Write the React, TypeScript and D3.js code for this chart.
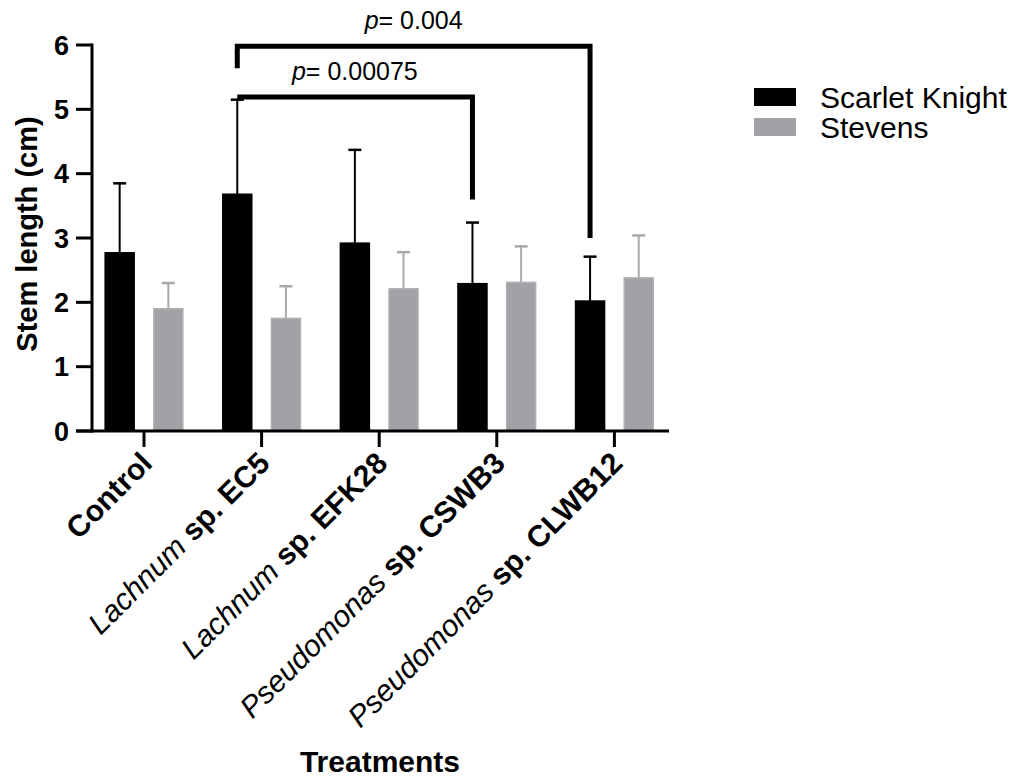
import React from "react";
import * as d3 from "d3";

const genus = ["", "Lachnum", "Lachnum", "Pseudomonas", "Pseudomonas"];
const strain = ["Control", " sp. EC5", " sp. EFK28", " sp. CSWB3", " sp. CLWB12"];
const categories = strain.map((s, i) => genus[i] + s);
const seriesNames = ["Scarlet Knight", "Stevens"];
const scarletMeans = [2.77, 3.68, 2.92, 2.29, 2.02];
const scarletSD = [1.08, 1.47, 1.45, 0.95, 0.69];
const stevensMeans = [1.9, 1.75, 2.21, 2.31, 2.38];
const stevensSD = [0.4, 0.5, 0.57, 0.56, 0.66];
const yTicks = [0, 1, 2, 3, 4, 5, 6];
// significance brackets: from/to category index (Scarlet Knight bars), level, drop levels
const brFrom = [1, 1];
const brTo = [3, 4];
const brLevel = [5.19, 5.98];
const brDropL = [5.19, 5.64];
const brDropR = [3.6, 3.0];
const brLabel = ["0.00075", "0.004"];

const W = 1021;
const H = 780;
const FONT = "'Liberation Sans', Arial, Helvetica, sans-serif";
const BLACK = "#000";
const GRAY = "#a2a2a6";
const GRAY_ERR = "#a9a9a9";

export default function App() {
  const y = d3.scaleLinear().domain([0, 6]).range([431, 45]);
  const x = d3.scaleBand<string>().domain(categories).range([85.2, 673.2]).paddingInner(0).paddingOuter(0);
  const sub = d3.scaleBand<string>().domain(seriesNames).range([-36.5, 36.5]).paddingInner(0.5).paddingOuter(0);
  const cx = (i: number) => (x(categories[i]) as number) + x.bandwidth() / 2;
  const bw = 29;
  const subC = (s: string) => (sub(s) as number) + sub.bandwidth() / 2;

  const series = [
    { name: seriesNames[0], means: scarletMeans, sd: scarletSD, fill: BLACK, err: BLACK },
    { name: seriesNames[1], means: stevensMeans, sd: stevensSD, fill: GRAY, err: GRAY_ERR },
  ];

  return (
    <svg width={W} height={H} style={{ position: "absolute", left: 0, top: 0, background: "#fff" }} fontFamily={FONT}>
      {/* bars */}
      {series.map((s) =>
        s.means.map((m, i) => {
          const c = cx(i) + subC(s.name);
          return (
            <g key={s.name + i}>
              <line x1={c} x2={c} y1={y(m)} y2={y(m + s.sd[i])} stroke={s.err} strokeWidth={2} />
              <line x1={c - 6.5} x2={c + 6.5} y1={y(m + s.sd[i])} y2={y(m + s.sd[i])} stroke={s.err} strokeWidth={2.5} />
              <rect x={c - bw / 2} y={y(m)} width={bw} height={y(0) - y(m)} fill={s.fill} stroke={s.fill === BLACK ? BLACK : "#b0b0b3"} strokeWidth={1.5} />
            </g>
          );
        })
      )}
      {/* y axis */}
      <line x1={92} x2={92} y1={y(6) - 1.5} y2={y(0) + 1.5} stroke={BLACK} strokeWidth={3} />
      {yTicks.map((t) => (
        <g key={t}>
          <line x1={76} x2={92} y1={y(t)} y2={y(t)} stroke={BLACK} strokeWidth={3} />
          <text x={69} y={y(t)} dy="0.36em" textAnchor="end" fontSize={27} fontWeight="bold">
            {t}
          </text>
        </g>
      ))}
      {/* x axis */}
      <line x1={76} x2={669} y1={y(0)} y2={y(0)} stroke={BLACK} strokeWidth={3} />
      {categories.map((c, i) => (
        <g key={c}>
          <line x1={cx(i)} x2={cx(i)} y1={y(0)} y2={y(0) + 16} stroke={BLACK} strokeWidth={3} />
          <text
            transform={`translate(${cx(i) + 10},${y(0) + 34}) rotate(-45)`}
            textAnchor="end"
            fontSize={30}
          >
            {genus[i] && <tspan fontStyle="italic">{genus[i]}</tspan>}
            <tspan fontWeight="bold">{strain[i]}</tspan>
          </text>
        </g>
      ))}
      {/* axis titles */}
      <text transform={`translate(37,234) rotate(-90)`} textAnchor="middle" fontSize={29} fontWeight="bold">
        Stem length (cm)
      </text>
      <text x={380} y={772} textAnchor="middle" fontSize={30} fontWeight="bold">
        Treatments
      </text>
      {/* significance brackets */}
      {brFrom.map((f, k) => {
        const x1 = cx(f) + subC(seriesNames[0]);
        const x2 = cx(brTo[k]) + subC(seriesNames[0]);
        const d = `M${x1},${y(brDropL[k])} L${x1},${y(brLevel[k])} L${x2},${y(brLevel[k])} L${x2},${y(brDropR[k])}`;
        return (
          <g key={k}>
            <path d={d} fill="none" stroke={BLACK} strokeWidth={5} />
            <text x={(x1 + x2) / 2} y={y(brLevel[k]) - 17} textAnchor="middle" fontSize={25}>
              <tspan fontStyle="italic">p</tspan>= {brLabel[k]}
            </text>
          </g>
        );
      })}
      {/* legend */}
      {series.map((s, i) => (
        <g key={s.name} transform={`translate(754,${88 + i * 30})`}>
          <rect x={0} y={0} width={42} height={18} fill={s.fill} />
          <text x={66} y={9} dy="0.36em" fontSize={30}>
            {s.name}
          </text>
        </g>
      ))}
    </svg>
  );
}
